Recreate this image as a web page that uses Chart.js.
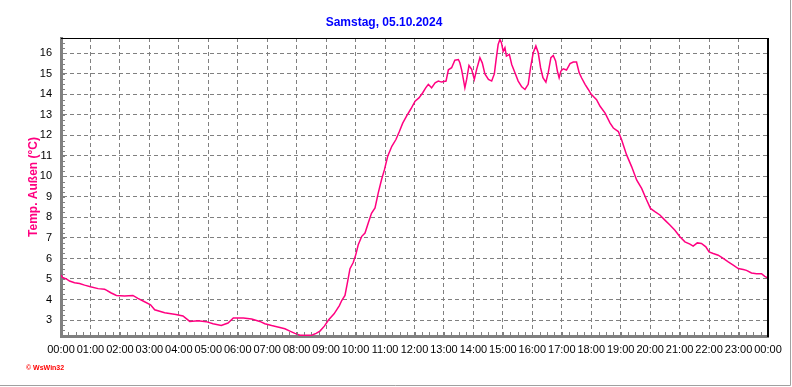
<!DOCTYPE html>
<html>
<head>
<meta charset="utf-8">
<script src="https://cdn.jsdelivr.net/npm/chart.js@4.4.1/dist/chart.umd.min.js"></script>
<style>
  html, body { margin: 0; padding: 0; background: #fff; }
  canvas { display: block; }
</style>
</head>
<body>
<canvas id="tempChart" width="792" height="387"></canvas>
<script>
// Temp. Außen, Samstag 05.10.2024
const hours = [
  0.00, 0.05, 0.18, 0.29, 0.46, 0.63, 0.80, 1.00, 1.26, 1.48, 1.54, 1.69, 1.88, 2.16, 2.44, 2.61, 2.82,
  3.04, 3.18, 3.52, 3.90, 4.14, 4.37, 4.65, 4.93, 5.16, 5.44, 5.67, 5.85, 6.19, 6.47, 6.75, 6.92,
  7.15, 7.43, 7.60, 7.77, 7.94, 8.11, 8.51, 8.66, 8.79, 8.94, 9.08, 9.27, 9.45, 9.53, 9.64, 9.72,
  9.81, 9.92, 10.01, 10.09, 10.21, 10.32, 10.43, 10.54, 10.66, 10.77, 10.88, 10.98, 11.09, 11.23,
  11.37, 11.49, 11.60, 11.73, 11.88, 12.02, 12.15, 12.28, 12.38, 12.47, 12.58, 12.70, 12.81, 12.92,
  13.07, 13.15, 13.26, 13.37, 13.49, 13.54, 13.60, 13.66, 13.71, 13.77, 13.85, 13.94, 14.03, 14.11,
  14.22, 14.30, 14.39, 14.51, 14.62, 14.71, 14.77, 14.84, 14.90, 14.95, 15.01, 15.07, 15.12, 15.22,
  15.30, 15.41, 15.52, 15.64, 15.75, 15.86, 15.94, 16.03, 16.12, 16.20, 16.28, 16.36, 16.46, 16.54,
  16.63, 16.71, 16.79, 16.85, 16.91, 16.97, 17.05, 17.16, 17.28, 17.39, 17.50, 17.59, 17.67, 17.79,
  17.90, 18.00, 18.18, 18.30, 18.47, 18.64, 18.75, 18.92, 19.03, 19.20, 19.37, 19.54, 19.71, 19.88,
  20.01, 20.16, 20.33, 20.50, 20.67, 20.84, 21.01, 21.18, 21.35, 21.46, 21.60, 21.74, 21.89, 22.00,
  22.14, 22.31, 22.48, 22.65, 22.82, 22.99, 23.16, 23.27, 23.44, 23.61, 23.78, 23.89, 23.97
];
const temps = [
  5.20, 5.08, 5.00, 4.90, 4.82, 4.78, 4.70, 4.62, 4.53, 4.50, 4.46, 4.33, 4.20, 4.17, 4.20, 4.05, 3.90,
  3.74, 3.50, 3.35, 3.27, 3.20, 2.93, 2.96, 2.92, 2.82, 2.73, 2.85, 3.10, 3.10, 3.05, 2.93, 2.82,
  2.73, 2.63, 2.57, 2.46, 2.35, 2.26, 2.26, 2.35, 2.46, 2.70, 3.00, 3.30, 3.70, 3.95, 4.20, 4.80,
  5.50, 5.80, 6.20, 6.67, 7.08, 7.24, 7.73, 8.20, 8.46, 9.20, 9.84, 10.33, 10.98, 11.47,
  11.80, 12.20, 12.60, 12.94, 13.30, 13.67, 13.83, 14.08, 14.32, 14.49, 14.32, 14.57, 14.65, 14.60,
  14.65, 15.20, 15.30, 15.67, 15.70, 15.54, 15.20, 14.73, 14.32, 14.73, 15.41, 15.22, 14.73, 15.22,
  15.79, 15.54, 15.00, 14.73, 14.65, 15.00, 15.70, 16.44, 16.68, 16.52, 16.10, 16.28, 15.87, 15.95,
  15.46, 15.06, 14.65, 14.37, 14.24, 14.49, 15.30, 16.03, 16.36, 16.03, 15.30, 14.81, 14.60, 15.06,
  15.79, 15.90, 15.63, 15.14, 14.81, 15.14, 15.25, 15.19, 15.50, 15.58, 15.58, 15.06, 14.81, 14.49,
  14.24, 14.00, 13.74, 13.42, 13.09, 12.60, 12.36, 12.19, 11.79, 11.05, 10.48, 9.83, 9.42, 8.85,
  8.44, 8.28, 8.12, 7.87, 7.63, 7.38, 7.06, 6.81, 6.70, 6.60, 6.76, 6.73, 6.57, 6.32,
  6.24, 6.16, 6.00, 5.83, 5.67, 5.51, 5.46, 5.42, 5.29, 5.26, 5.26, 5.13, 5.07
];
const yMin = 2.22;
const yMax = 16.75;
const titleText = 'Samstag, 05.10.2024';
const yLabel = 'Temp. Außen (°C)';

const FONT = "'Liberation Sans', Arial, sans-serif";
const PINK = '#ff0080';
const GRID = '#808080';

// frame, minor ticks, logo and window edge
const extras = {
  id: 'extras',
  afterDraw(chart) {
    const { ctx, chartArea: a, scales: { x, y } } = chart;
    ctx.save();
    ctx.strokeStyle = GRID;
    ctx.lineWidth = 1;
    ctx.beginPath();
    for (let m = 0; m <= 24 * 4; m++) {
      const px = Math.round(x.getPixelForValue(m / 4)) + 0.5;
      ctx.moveTo(px, a.bottom - 1);
      ctx.lineTo(px, a.bottom - 4);
    }
    for (let v = 2.25; v <= yMax; v += 0.25) {
      const py = Math.round(y.getPixelForValue(v)) + 0.5;
      ctx.moveTo(a.left + 1, py);
      ctx.lineTo(a.left + 4, py);
    }
    ctx.stroke();

    ctx.strokeStyle = '#000';
    ctx.lineWidth = 1;
    ctx.beginPath();
    ctx.moveTo(a.left, a.top + 0.5);
    ctx.lineTo(a.right + 1, a.top + 0.5);
    ctx.stroke();
    ctx.lineWidth = 2;
    ctx.beginPath();
    ctx.moveTo(a.right, a.top);
    ctx.lineTo(a.right, a.bottom + 1);
    ctx.stroke();

    ctx.strokeStyle = '#a0a0a0';
    ctx.lineWidth = 1;
    ctx.beginPath();
    ctx.moveTo(790.5, 0);
    ctx.lineTo(790.5, 385.5);
    ctx.lineTo(0, 385.5);
    ctx.stroke();

    ctx.fillStyle = '#ff0000';
    ctx.font = 'bold 7px ' + FONT;
    ctx.textBaseline = 'middle';
    ctx.fillText('\u00a9 WsWin32', 26, 368);
    ctx.restore();
  }
};

new Chart(document.getElementById('tempChart'), {
  type: 'line',
  data: {
    datasets: [{
      data: hours.map((h, i) => ({ x: h, y: temps[i] })),
      borderColor: PINK,
      borderWidth: 1.5,
      pointRadius: 0,
      tension: 0,
      fill: false
    }]
  },
  options: {
    responsive: false,
    animation: false,
    events: [],
    layout: { padding: { left: 0, right: 24, top: 0, bottom: 31 } },
    plugins: {
      legend: { display: false },
      tooltip: { enabled: false },
      title: {
        display: true,
        text: titleText,
        color: '#0000ff',
        font: { family: FONT, size: 12, weight: 'bold' },
        padding: { top: 15, bottom: 8.6 }
      }
    },
    scales: {
      x: {
        type: 'linear',
        min: 0,
        max: 24,
        afterFit: s => { s.height = 20; },
        grid: { color: GRID, lineWidth: 1, drawTicks: false },
        border: { color: GRID, width: 3, dash: [4, 3] },
        ticks: {
          stepSize: 1,
          autoSkip: false,
          maxRotation: 0,
          padding: 7,
          color: '#000',
          font: { family: FONT, size: 11 },
          callback: v => String(v % 24).padStart(2, '0') + ':00'
        }
      },
      y: {
        min: yMin,
        max: yMax,
        afterFit: s => { s.width = 61; },
        grid: { color: GRID, lineWidth: 1, drawTicks: false },
        border: { color: GRID, width: 3, dash: [4, 3] },
        title: {
          display: true,
          text: yLabel,
          color: PINK,
          font: { family: FONT, size: 12, weight: 'bold' },
          padding: { top: 26, bottom: 0 }
        },
        ticks: {
          stepSize: 1,
          includeBounds: false,
          padding: 9,
          color: '#000',
          font: { family: FONT, size: 11 }
        }
      }
    }
  },
  plugins: [extras]
});
</script>
</body>
</html>
